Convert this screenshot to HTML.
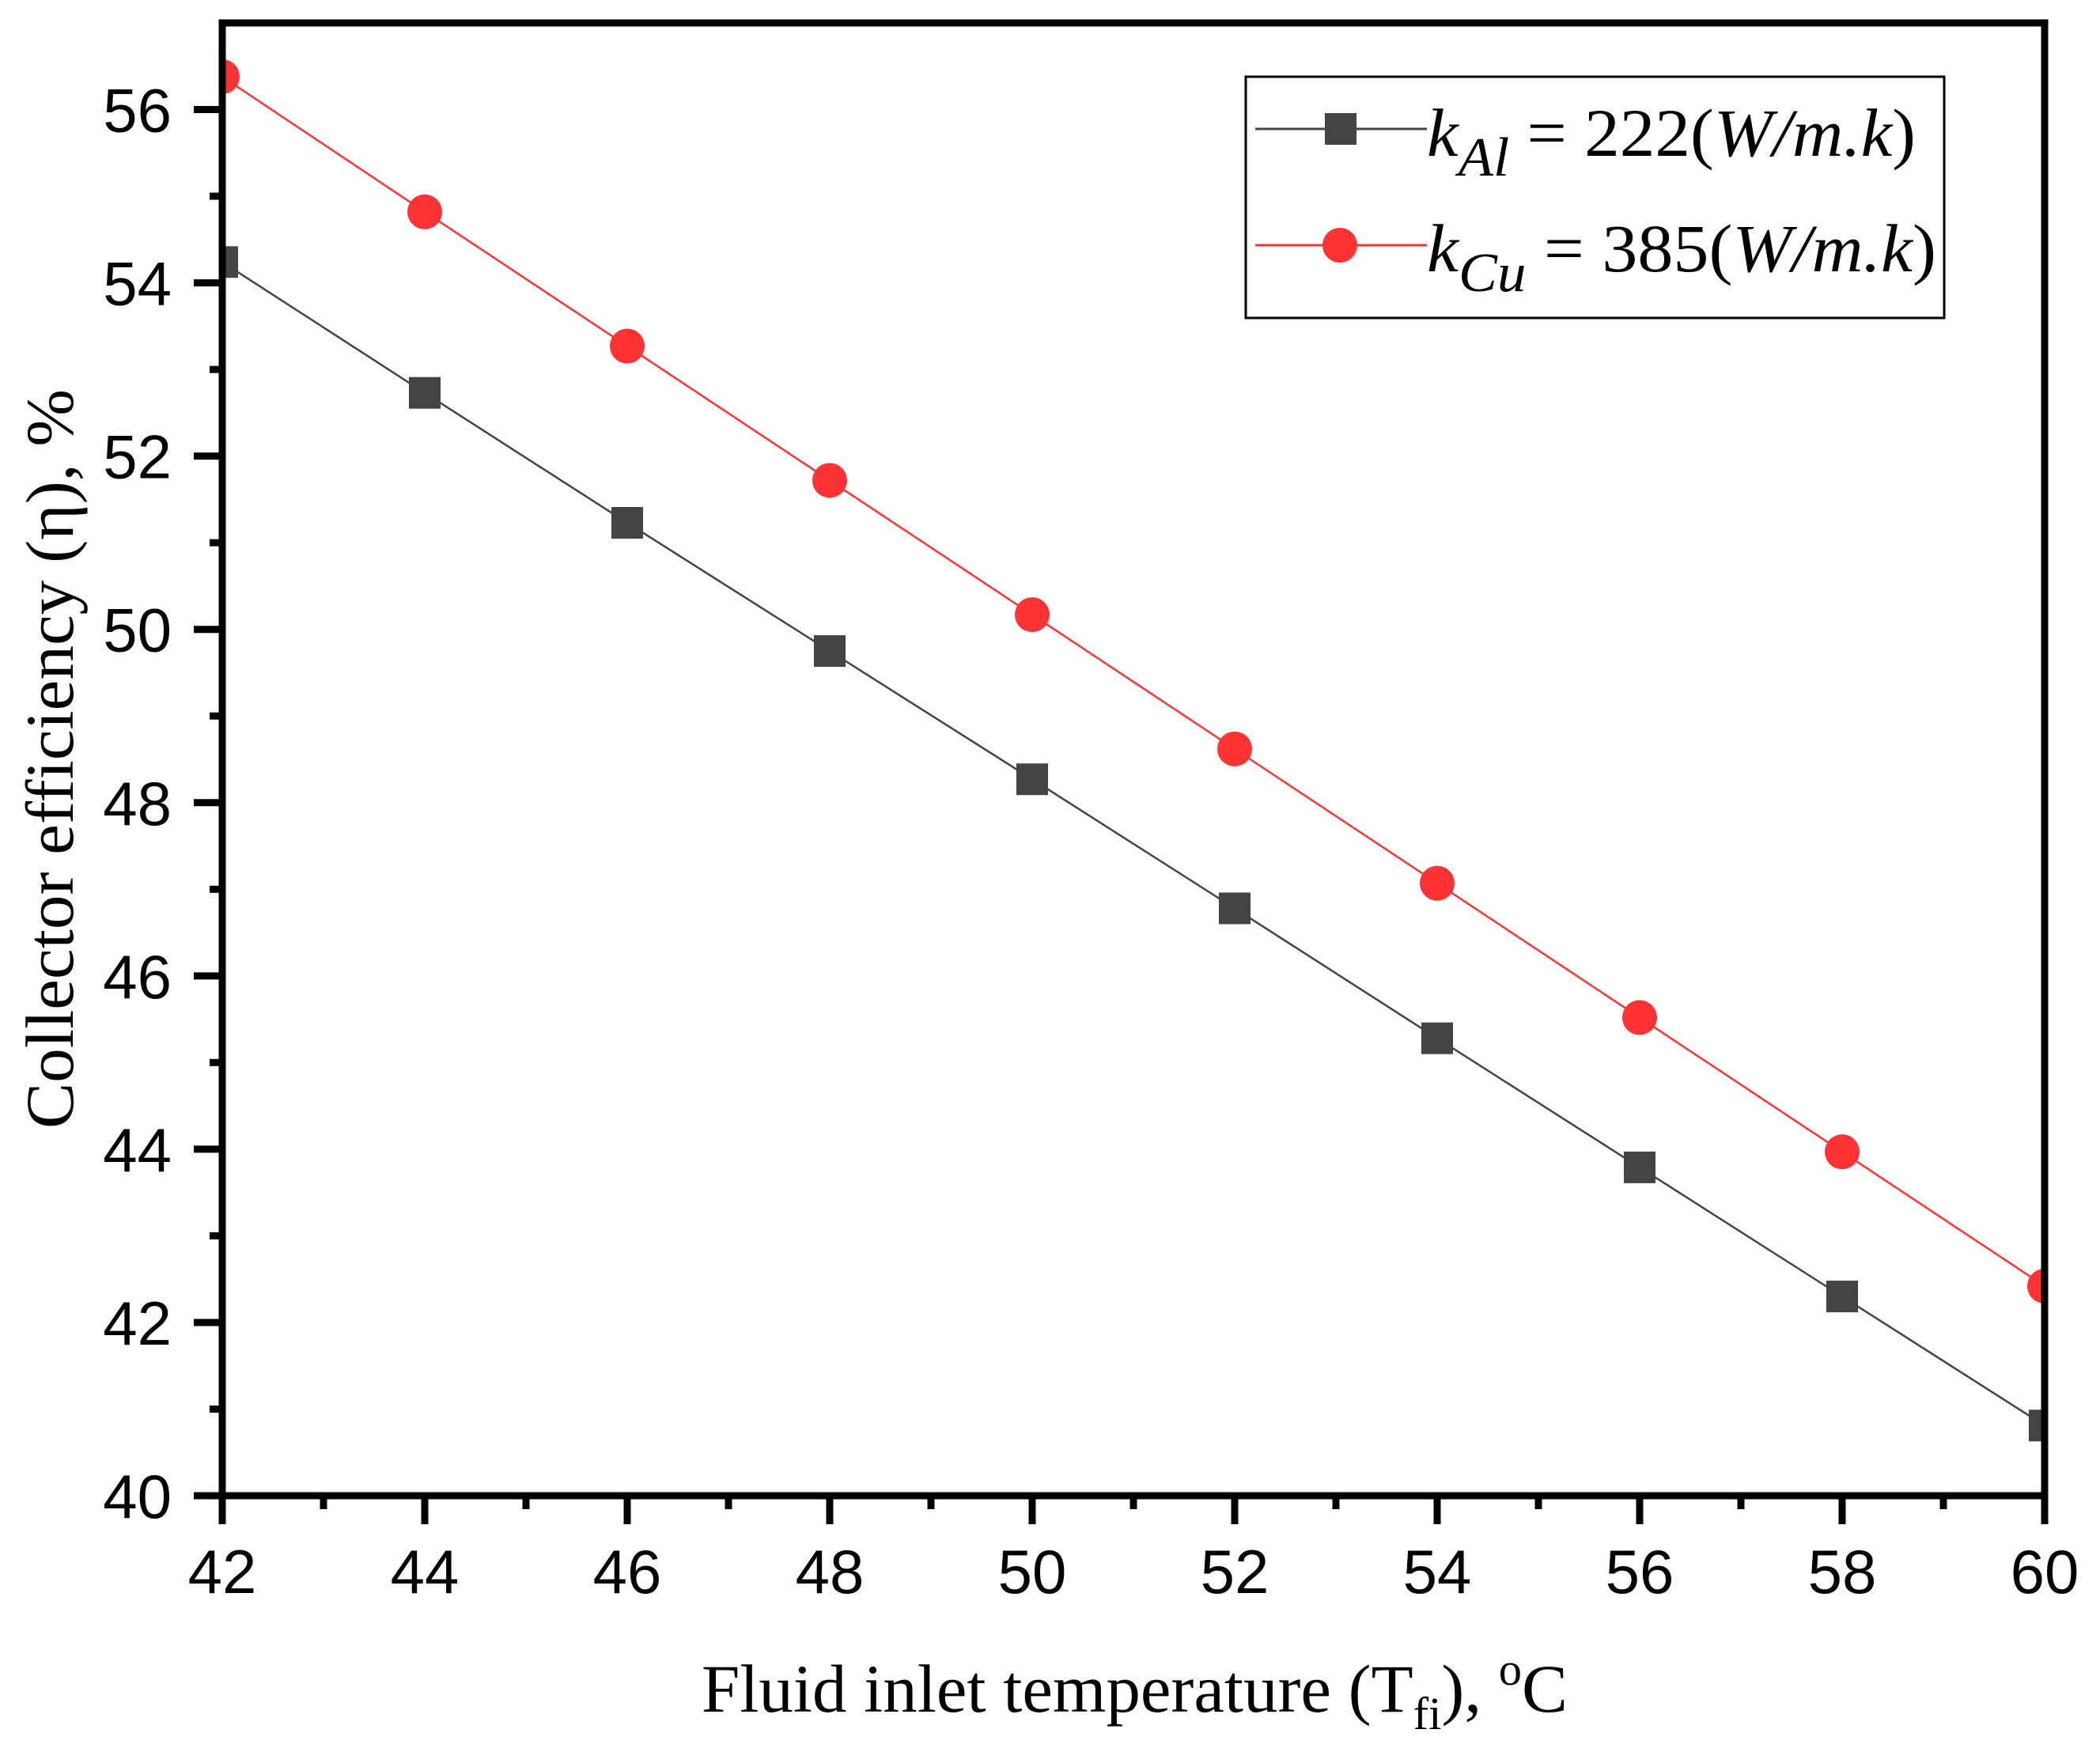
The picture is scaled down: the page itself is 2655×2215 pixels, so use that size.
<!DOCTYPE html>
<html><head><meta charset="utf-8"><style>html,body{margin:0;padding:0;background:#fff}svg{display:block}</style></head>
<body>
<svg id="chart" width="2655" height="2215" viewBox="0 0 2655 2215" xmlns="http://www.w3.org/2000/svg">
<defs><clipPath id="plotclip"><rect x="281" y="29" width="2304" height="1862"/></clipPath></defs>
<rect x="0" y="0" width="2655" height="2215" fill="#fff"/>
<g id="ticks"></g>
<g id="series" clip-path="url(#plotclip)"></g>
<rect x="281" y="29" width="2304" height="1862" fill="none" stroke="#000" stroke-width="9"/>
<text x="887" y="2164" font-family="Liberation Serif, serif" font-size="86" textLength="1095" lengthAdjust="spacingAndGlyphs">Fluid inlet temperature (T<tspan font-size="58" dy="22">fi</tspan><tspan dy="-22">), </tspan><tspan font-size="58" dy="-34">o</tspan><tspan dy="34">C</tspan></text>
<text transform="translate(92,1427) rotate(-90)" x="0" y="0" font-family="Liberation Serif, serif" font-size="86" textLength="935" lengthAdjust="spacingAndGlyphs">Collector efficiency (η), %</text>
<g>
<rect x="1575" y="97" width="883" height="305" fill="#fff" stroke="#000" stroke-width="3"/>
<g>
<line x1="1587" y1="163" x2="1804" y2="163" stroke="#444" stroke-width="3"/>
<rect x="1675" y="143" width="40" height="40" fill="#444"/>
<text x="1804" y="197" font-family="Liberation Serif, serif" font-size="86" font-style="italic" textLength="618" lengthAdjust="spacingAndGlyphs">k<tspan font-size="70" dy="25">Al</tspan><tspan dy="-25" font-style="normal"> = 222(</tspan>W/m.k<tspan font-style="normal">)</tspan></text>
</g>
<g>
<line x1="1587" y1="310" x2="1804" y2="310" stroke="#f33" stroke-width="3"/>
<circle cx="1694" cy="310" r="22" fill="#f33"/>
<text x="1804" y="343" font-family="Liberation Serif, serif" font-size="86" font-style="italic" textLength="644" lengthAdjust="spacingAndGlyphs">k<tspan font-size="70" dy="25">Cu</tspan><tspan dy="-25" font-style="normal"> = 385(</tspan>W/m.k<tspan font-style="normal">)</tspan></text>
</g>
</g>
</svg>
<script>
const temps = [42,44,46,48,50,52,54,56,58,60];
const effAl = [54.24,52.73,51.23,49.75,48.27,46.78,45.28,43.79,42.30,40.81];
const effCu = [56.38,54.82,53.27,51.72,50.17,48.62,47.07,45.52,43.97,42.42];
const xTicks = ["42","44","46","48","50","52","54","56","58","60"];
const yTicks = ["40","42","44","46","48","50","52","54","56"];
const NS="http://www.w3.org/2000/svg";
const X0=281,X1=2585,Y0=1891,Y1=29;
const xMin=42,xMax=60,yMin=40,yMax=57;
function sx(v){return X0+(v-xMin)/(xMax-xMin)*(X1-X0);}
function sy(v){return Y0-(v-yMin)/(yMax-yMin)*(Y0-Y1);}
function mk(t,a){const e=document.createElementNS(NS,t);for(const k in a)e.setAttribute(k,a[k]);return e;}
const tk=document.getElementById('ticks');
for(let v=xMin;v<=xMax;v+=1){const major=(v%2===0);
 const l=mk('line',{x1:sx(v),x2:sx(v),y1:Y0,y2:Y0+(major?36:17),stroke:'#000','stroke-width':9});
 
 
 tk.appendChild(l);}
xTicks.forEach(s=>{const t=mk('text',{x:sx(+s),y:2014,'text-anchor':'middle','font-family':'Liberation Sans, sans-serif','font-size':78});
 t.textContent=s;
 
 
 tk.appendChild(t);});
for(let v=yMin;v<=56;v+=1){const major=(v%2===0);
 const l=mk('line',{x1:X0-(major?36:16),x2:X0,y1:sy(v),y2:sy(v),stroke:'#000','stroke-width':9});
 
 
 tk.appendChild(l);}
yTicks.forEach(s=>{const t=mk('text',{x:217,y:sy(+s)+28,'text-anchor':'end','font-family':'Liberation Sans, sans-serif','font-size':78});
 t.textContent=s;
 
 
 tk.appendChild(t);});
const sg=document.getElementById('series');
function drawSeries(vals,color,shape,name){
 const pts=temps.map((t,i)=>sx(t)+','+sy(vals[i])).join(' ');
 const pl=mk('polyline',{points:pts,fill:'none',stroke:color,'stroke-width':2.5});
 
 
 sg.appendChild(pl);
 temps.forEach((t,i)=>{let m;
  if(shape==='square')m=mk('rect',{x:sx(t)-20,y:sy(vals[i])-20,width:40,height:40,fill:color});
  else m=mk('circle',{cx:sx(t),cy:sy(vals[i]),r:22,fill:color});
  
  
  sg.appendChild(m);});
}
drawSeries(effAl,'#444','square','al-series');
drawSeries(effCu,'#f33','circle','cu-series');
</script>
</body></html>
